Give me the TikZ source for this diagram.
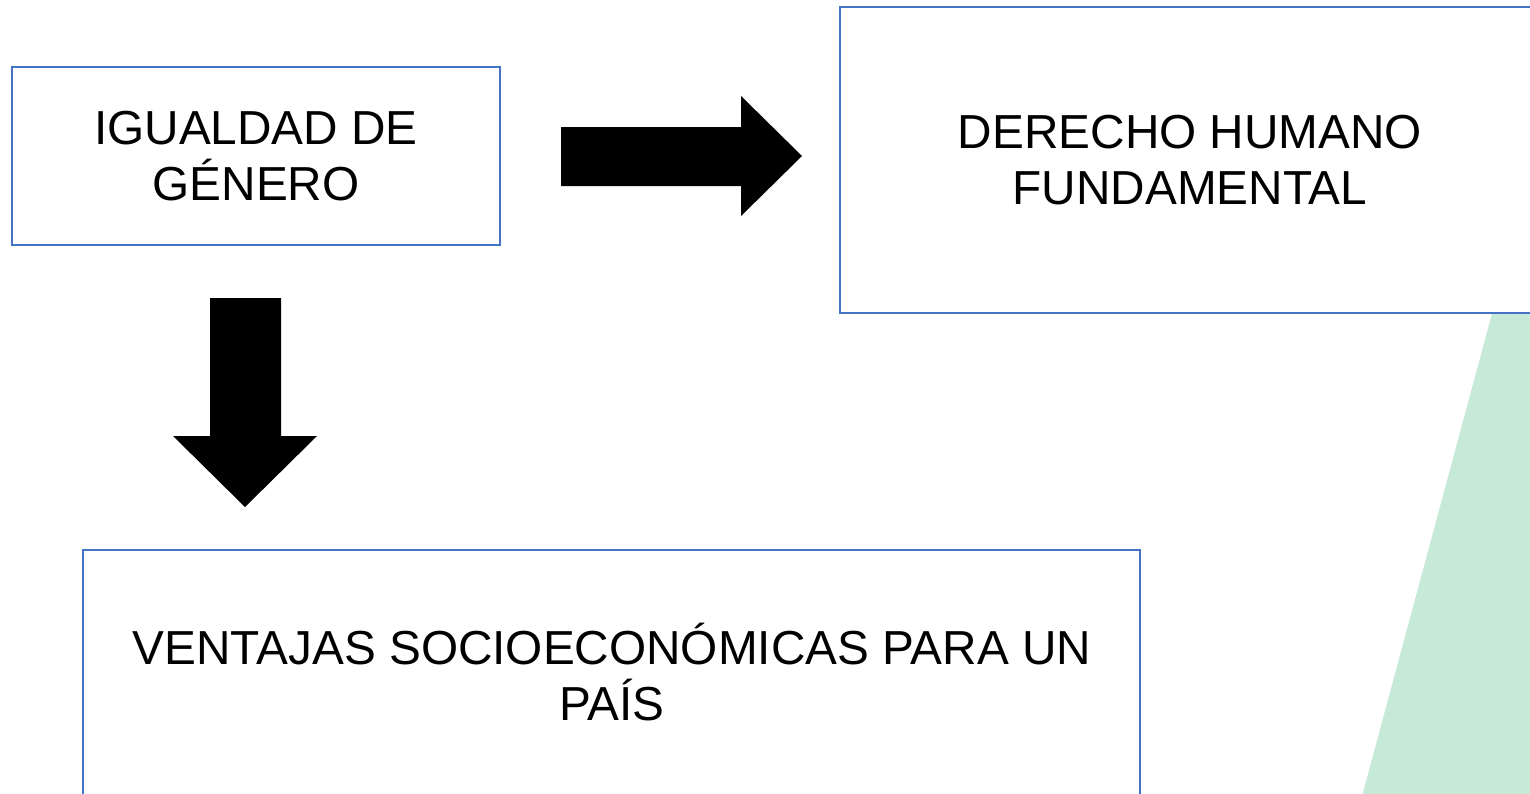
\documentclass[tikz,border=0pt]{standalone}
\usepackage{fontspec}
\setmainfont{Liberation Sans}
\definecolor{boxblue}{HTML}{4472C4}
\definecolor{softgreen}{HTML}{C6E9D8}
\tikzset{
  labeltext/.style={align=center, font=\fontsize{35.8}{42}\selectfont, inner sep=0pt},
  box/.style={draw=boxblue, line width=1.5pt, fill=white, rectangle, labeltext},
  blockarrow/.style={fill=black, draw=none}
}
\begin{document}
\begin{tikzpicture}[x=0.75pt, y=-0.75pt]
\useasboundingbox (0,0) rectangle (1530,793);
\clip (0,0) rectangle (1530,793);
\fill[white] (0,0) rectangle (1530,793);
% green background shape
\fill[softgreen] (1497,295) -- (1540,295) -- (1540,800) -- (1361,800) -- cycle;
% boxes
\node[box, minimum width=366pt, minimum height=133.5pt] (igualdad) at (256,156) {IGUALDAD DE\\GÉNERO};
\node[box, minimum width=525pt, minimum height=229.5pt] (derecho) at (1190,160) {DERECHO HUMANO\\FUNDAMENTAL};
\node[box, minimum width=792.75pt, minimum height=195pt] (ventajas) at (611.5,680) {};
\node[labeltext] (ventajastext) at (612,672) {VENTAJAS SOCIOECONÓMICAS PARA UN\\PAÍS};
% right block arrow
\fill[blockarrow] (561,127) -- (741,127) -- (741,96) -- (802,156) -- (741,216) -- (741,186) -- (561,186) -- cycle;
% down block arrow
\fill[blockarrow] (210,298) -- (281,298) -- (281,436) -- (317,436) -- (245,507) -- (173,436) -- (210,436) -- cycle;
\end{tikzpicture}
\end{document}
